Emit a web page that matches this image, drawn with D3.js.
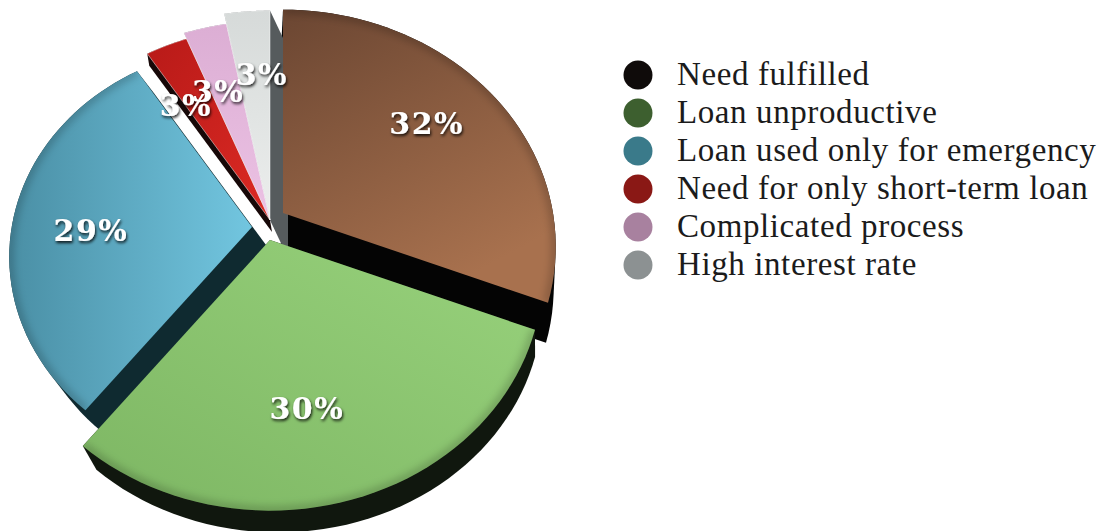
<!DOCTYPE html>
<html>
<head>
<meta charset="utf-8">
<script src="https://cdn.jsdelivr.net/npm/d3@7"></script>
<style>
html,body{margin:0;padding:0;background:#fff;overflow:hidden}
svg{display:block}
</style>
</head>
<body>
<svg id="chart" width="1100" height="531"></svg>
<script>
// Reasons for not taking a further loan, shares in percent
const sliceValues = [32, 30, 29, 3, 3, 3];
const legendLabels = [
  "Need fulfilled", "Loan unproductive", "Loan used only for emergency",
  "Need for only short-term loan", "Complicated process", "High interest rate"
];
const legendColors = ["#0f0b0a", "#3d5f2f", "#3a7a8a", "#8a1815", "#a8819f", "#8c9192"];

// Slice styling: top-face gradient stops, gradient axis and side-wall colour
const faceStart = ["#6b4632", "#7db663", "#4a8fa5", "#b81a18", "#dcaed4", "#d6dad9"];
const faceEnd   = ["#a8714e", "#98d27c", "#72c6e0", "#dc2a24", "#ecc2e4", "#eceeed"];
const faceAxis  = [[0, 0, .5, 1], [0, 1, 1, 0], [0, .5, 1, .5], [0, 0, 1, 1], [0, 0, 0, 1], [0, 0, 0, 1]];
const wallColors = ["#040404", "#10170e", "#0f2a30", "#170808", "#5b4a62", "#565b5d"];

// View parameters of the tilted, exploded pie
const center = [265, 228];
const radius = 270, tilt = 0.86, perspective = 0.142;
const explode = [[18, -15], [5, 12], [-13, -1], [5, -8], [5, -8], [5, -8]];
const radiusScale = [1, 1, 0.89, 0.95, 0.98, 1.03];
const wall = [
  {dx: -2, dy: 40, s: 1}, {dx: 8, dy: 30, s: .97}, {dx: 17, dy: 22, s: 1},
  {dx: 2, dy: 12, s: 1}, {dx: 2, dy: 3, s: 1}, {dx: 18, dy: 38, s: 1}
];
const labelRadius = [.7, .63, .68, .64, .66, .7];
const labelNudge = [[-1, -5], [-15, 5], [1, 10], [-18, -3], [-9, -2], [8, 1]];

const svg = d3.select("#chart");
const defs = svg.append("defs");

const pie = d3.pie().sort(null).startAngle(0).endAngle(2 * Math.PI)(sliceValues);

// The foreshortened view squeezes the lower slices slightly, so pie angles pass through this scale.
const viewAngle = d3.scaleLinear()
  .domain([0, 115.2, 223.2, 327.6, 360])
  .range([0, 111.5, 218, 327.6, 360]);

function project(thetaRad, r) {
  const a = Math.PI / 2 - viewAngle(thetaRad * 180 / Math.PI) * Math.PI / 180;
  const u = Math.cos(a), v = Math.sin(a), w = 1 + perspective * v;
  return [radius * r * u / w, -radius * tilt * r * v / w];
}

function sectorPoints(d, i) {
  const n = 48, r = radiusScale[i];
  const pts = [[0, 0]];
  d3.range(n + 1).forEach(k => {
    pts.push(project(d.startAngle + (d.endAngle - d.startAngle) * k / n, r));
  });
  return pts;
}

const line = d3.line();
const outline = pts => line(pts) + "Z";

const blur = defs.append("filter").attr("id", "edgeBlur")
  .attr("x", "-10%").attr("y", "-10%").attr("width", "120%").attr("height", "120%");
blur.append("feGaussianBlur").attr("stdDeviation", 4);

const textShadow = defs.append("filter").attr("id", "labelShadow")
  .attr("x", "-30%").attr("y", "-30%").attr("width", "160%").attr("height", "170%");
textShadow.append("feDropShadow")
  .attr("dx", 1).attr("dy", 2).attr("stdDeviation", 1.4)
  .attr("flood-color", "#000").attr("flood-opacity", .85);

pie.forEach((d, i) => {
  const g = defs.append("linearGradient").attr("id", "face" + i)
    .attr("x1", faceAxis[i][0]).attr("y1", faceAxis[i][1])
    .attr("x2", faceAxis[i][2]).attr("y2", faceAxis[i][3]);
  g.append("stop").attr("offset", 0).attr("stop-color", faceStart[i]);
  g.append("stop").attr("offset", 1).attr("stop-color", faceEnd[i]);
  defs.append("clipPath").attr("id", "clip" + i)
    .append("path").attr("d", outline(sectorPoints(d, i)));
});

const slicePos = i => [center[0] + explode[i][0], center[1] + explode[i][1]];

// Side walls: hull of the top face and its displaced lower face
const walls = svg.append("g");
pie.forEach((d, i) => {
  const top = sectorPoints(d, i);
  const bottom = top.map(p => [p[0] * wall[i].s + wall[i].dx, p[1] * wall[i].s + wall[i].dy]);
  walls.append("path")
    .attr("transform", `translate(${slicePos(i)})`)
    .attr("d", outline(d3.polygonHull(top.concat(bottom))))
    .attr("fill", wallColors[i]);
});

// Top faces, with a soft darkening along the rim
const faces = svg.append("g");
pie.forEach((d, i) => {
  const g = faces.append("g").attr("transform", `translate(${slicePos(i)})`);
  const path = outline(sectorPoints(d, i));
  g.append("path").attr("d", path).attr("fill", `url(#face${i})`);
  if (i < 3) {
    const pts = sectorPoints(d, i).slice(1);
    g.append("g").attr("clip-path", `url(#clip${i})`)
      .append("path").attr("d", line(pts))
      .attr("fill", "none").attr("stroke", "#000").attr("stroke-opacity", .25)
      .attr("stroke-width", 7).attr("filter", "url(#edgeBlur)");
  } else {
    g.append("path").attr("d", path).attr("fill", "none")
      .attr("stroke", "#fff").attr("stroke-width", .6).attr("stroke-opacity", .8);
  }
});

// Percentage labels
const labels = svg.append("g")
  .attr("font-family", "'DejaVu Serif', serif")
  .attr("font-weight", 700)
  .attr("font-size", 30)
  .attr("letter-spacing", 1.5)
  .attr("fill", "#fff")
  .attr("text-anchor", "middle")
  .attr("dominant-baseline", "central")
  .attr("filter", "url(#labelShadow)");
pie.forEach((d, i) => {
  const p = project((d.startAngle + d.endAngle) / 2, labelRadius[i] * radiusScale[i]);
  const o = slicePos(i);
  labels.append("text")
    .attr("x", o[0] + p[0] + labelNudge[i][0]).attr("y", o[1] + p[1] + labelNudge[i][1])
    .text(d.value + "%");
});

// Legend
const legendY = d3.scalePoint().domain(legendLabels).range([75, 265]);
const legend = svg.append("g");
legendLabels.forEach((name, i) => {
  legend.append("circle")
    .attr("cx", 638).attr("cy", legendY(name)).attr("r", 14.5)
    .attr("fill", legendColors[i]);
  legend.append("text")
    .attr("x", 677).attr("y", legendY(name) + 10)
    .attr("font-family", "'Liberation Serif', serif")
    .attr("font-size", 33)
    .attr("letter-spacing", .6)
    .attr("fill", "#1b1b1b")
    .text(name);
});
</script>
</body>
</html>
